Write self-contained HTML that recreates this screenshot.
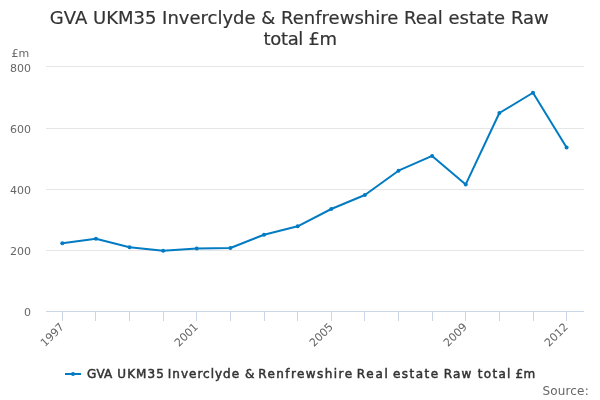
<!DOCTYPE html>
<html><head><meta charset="utf-8"><style>
html,body{margin:0;padding:0;background:#fff;width:600px;height:400px;overflow:hidden}
svg{display:block;will-change:transform;font-family:"DejaVu Sans","Liberation Sans",sans-serif}
</style></head><body>
<svg width="600" height="400" viewBox="0 0 600 400">
<rect x="0" y="0" width="600" height="400" fill="#ffffff"/>
<text x="299.3" y="24" text-anchor="middle" font-size="18" fill="#333333" stroke="#333333" stroke-width="0.2">GVA UKM35 Inverclyde &amp; Renfrewshire Real estate Raw</text>
<text x="300.3" y="44.5" text-anchor="middle" font-size="18" fill="#333333" stroke="#333333" stroke-width="0.2" textLength="73.5" lengthAdjust="spacing">total £m</text>
<path d="M 46 66.5 L 584 66.5" stroke="#e6e6e6" stroke-width="1" fill="none"/><path d="M 46 128.5 L 584 128.5" stroke="#e6e6e6" stroke-width="1" fill="none"/><path d="M 46 189.5 L 584 189.5" stroke="#e6e6e6" stroke-width="1" fill="none"/><path d="M 46 250.5 L 584 250.5" stroke="#e6e6e6" stroke-width="1" fill="none"/>
<path d="M 46 311.5 L 584 311.5" stroke="#ccd6eb" stroke-width="1" fill="none"/>
<path d="M 62.5 311 L 62.5 321" stroke="#ccd6eb" stroke-width="1" fill="none"/><path d="M 95.5 311 L 95.5 321" stroke="#ccd6eb" stroke-width="1" fill="none"/><path d="M 129.5 311 L 129.5 321" stroke="#ccd6eb" stroke-width="1" fill="none"/><path d="M 163.5 311 L 163.5 321" stroke="#ccd6eb" stroke-width="1" fill="none"/><path d="M 196.5 311 L 196.5 321" stroke="#ccd6eb" stroke-width="1" fill="none"/><path d="M 230.5 311 L 230.5 321" stroke="#ccd6eb" stroke-width="1" fill="none"/><path d="M 264.5 311 L 264.5 321" stroke="#ccd6eb" stroke-width="1" fill="none"/><path d="M 297.5 311 L 297.5 321" stroke="#ccd6eb" stroke-width="1" fill="none"/><path d="M 331.5 311 L 331.5 321" stroke="#ccd6eb" stroke-width="1" fill="none"/><path d="M 364.5 311 L 364.5 321" stroke="#ccd6eb" stroke-width="1" fill="none"/><path d="M 398.5 311 L 398.5 321" stroke="#ccd6eb" stroke-width="1" fill="none"/><path d="M 432.5 311 L 432.5 321" stroke="#ccd6eb" stroke-width="1" fill="none"/><path d="M 465.5 311 L 465.5 321" stroke="#ccd6eb" stroke-width="1" fill="none"/><path d="M 499.5 311 L 499.5 321" stroke="#ccd6eb" stroke-width="1" fill="none"/><path d="M 533.5 311 L 533.5 321" stroke="#ccd6eb" stroke-width="1" fill="none"/><path d="M 566.5 311 L 566.5 321" stroke="#ccd6eb" stroke-width="1" fill="none"/>
<g font-size="11" fill="#666666">
<text x="11.5" y="57">£m</text>
<text x="31" y="72" text-anchor="end">800</text><text x="31" y="133" text-anchor="end">600</text><text x="31" y="194" text-anchor="end">400</text><text x="31" y="255" text-anchor="end">200</text><text x="31" y="316" text-anchor="end">0</text>
<text x="64.8" y="327.5" text-anchor="end" transform="rotate(-45 64.8 327.5)">1997</text><text x="198.8" y="327.5" text-anchor="end" transform="rotate(-45 198.8 327.5)">2001</text><text x="333.8" y="327.5" text-anchor="end" transform="rotate(-45 333.8 327.5)">2005</text><text x="467.8" y="327.5" text-anchor="end" transform="rotate(-45 467.8 327.5)">2009</text><text x="568.8" y="327.5" text-anchor="end" transform="rotate(-45 568.8 327.5)">2012</text>
</g>
<path d="M 62.3 243.2 L 95.92 238.8 L 129.54 247.3 L 163.16 250.75 L 196.78 248.4 L 230.4 248.0 L 264.02 234.7 L 297.64 226.3 L 331.26 209.0 L 364.88 195.0 L 398.5 170.7 L 432.12 155.9 L 465.74 184.4 L 499.36 113.0 L 532.98 92.75 L 566.6 147.55" stroke="#027bc3" stroke-width="2" fill="none" stroke-linejoin="round" stroke-linecap="round"/>
<circle cx="62.3" cy="243.2" r="2" fill="#027bc3"/><circle cx="95.92" cy="238.8" r="2" fill="#027bc3"/><circle cx="129.54" cy="247.3" r="2" fill="#027bc3"/><circle cx="163.16" cy="250.75" r="2" fill="#027bc3"/><circle cx="196.78" cy="248.4" r="2" fill="#027bc3"/><circle cx="230.4" cy="248.0" r="2" fill="#027bc3"/><circle cx="264.02" cy="234.7" r="2" fill="#027bc3"/><circle cx="297.64" cy="226.3" r="2" fill="#027bc3"/><circle cx="331.26" cy="209.0" r="2" fill="#027bc3"/><circle cx="364.88" cy="195.0" r="2" fill="#027bc3"/><circle cx="398.5" cy="170.7" r="2" fill="#027bc3"/><circle cx="432.12" cy="155.9" r="2" fill="#027bc3"/><circle cx="465.74" cy="184.4" r="2" fill="#027bc3"/><circle cx="499.36" cy="113.0" r="2" fill="#027bc3"/><circle cx="532.98" cy="92.75" r="2" fill="#027bc3"/><circle cx="566.6" cy="147.55" r="2" fill="#027bc3"/>
<path d="M 65 374 L 81 374" stroke="#027bc3" stroke-width="2" fill="none"/>
<circle cx="73" cy="374" r="2" fill="#027bc3"/>
<text y="378" font-size="12" fill="#333333" stroke="#333333" stroke-width="0.49"><tspan x="87.0" style="letter-spacing:0.15px">GVA</tspan> <tspan x="117.3" style="letter-spacing:1.05px">UKM35</tspan> <tspan x="167.8" style="letter-spacing:0.989px">Inverclyde</tspan> <tspan x="245.0" style="letter-spacing:0.0px">&amp;</tspan> <tspan x="258.2" style="letter-spacing:1.436px">Renfrewshire</tspan> <tspan x="356.8" style="letter-spacing:1.733px">Real</tspan> <tspan x="393.0" style="letter-spacing:1.45px">estate</tspan> <tspan x="443.7" style="letter-spacing:1.2px">Raw</tspan> <tspan x="477.8" style="letter-spacing:1.3px">total</tspan> <tspan x="515.5" style="letter-spacing:0.3px">£m</tspan></text>
<text x="588.7" y="394.5" text-anchor="end" font-size="12" fill="#666666" textLength="46.3" lengthAdjust="spacing">Source:</text>
</svg>
</body></html>
